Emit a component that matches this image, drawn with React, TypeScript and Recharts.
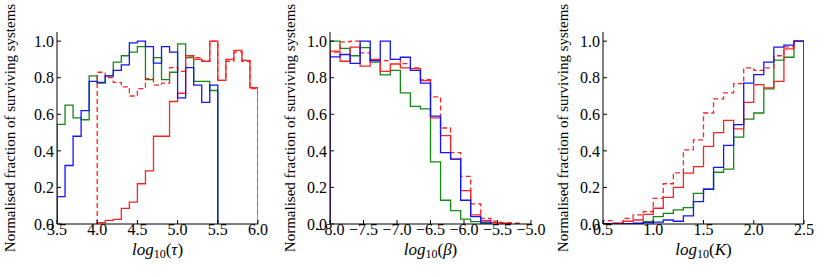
import { LineChart, Line, XAxis, YAxis } from "recharts";

// bins of 0.1 in log10(tau), starting at 3.5 (blue/green) and 4.0 (red)
const TAU_BLUE = [0.15, 0.32, 0.48, 0.62, 0.78, 0.775, 0.81, 0.84, 0.87, 0.99, 1.0, 0.97, 0.88, 0.97, 0.94, 0.69, 0.855, 0.76, 0.665, 0.76];
const TAU_GREEN = [0.545, 0.65, 0.58, 0.57, 0.81, 0.77, 0.81, 0.885, 0.92, 0.94, 0.97, 0.79, 0.91, 0.79, 0.83, 0.985, 0.91, 0.78, 0.78, 0.73];
const TAU_RED = [0.007, 0.02, 0.025, 0.085, 0.12, 0.22, 0.29, 0.48, 0.48, 0.67, 0.715, 0.92, 0.9, 0.89, 1.0, 0.785, 0.9, 0.95, 0.895, 0.745];
const TAU_RED_DASH = [0.83, 0.8, 0.775, 0.75, 0.7, 0.74, 0.795, 0.76, 0.77, 0.855, 0.835, 0.92, 0.91, 0.89, 1.0, 0.785, 0.89, 0.94, 0.89, 0.74];

// bins of 0.15 in log10(beta), starting at -8.0
const BETA_BLUE = [0.914, 0.927, 0.878, 1.0, 0.894, 1.0, 0.9, 0.912, 0.84, 0.77, 0.59, 0.39, 0.355, 0.13, 0.04, 0.01];
const BETA_GREEN = [1.0, 0.96, 0.92, 0.965, 0.885, 0.815, 0.84, 0.717, 0.643, 0.63, 0.34, 0.13, 0.073, 0.027, 0.013, 0.004];
const BETA_RED = [0.945, 0.89, 0.967, 0.863, 0.9, 0.835, 0.875, 0.854, 0.85, 0.784, 0.58, 0.483, 0.355, 0.183, 0.05, 0.018, 0.007, 0.004];
const BETA_RED_DASH = [0.94, 0.996, 1.0, 0.936, 0.894, 0.894, 0.9, 0.877, 0.853, 0.79, 0.695, 0.525, 0.39, 0.26, 0.11, 0.031, 0.016, 0.007, 0.004];

// bins of 0.1 in log10(K), starting at 0.5
const K_BLUE = [0, 0, 0.002, 0.004, 0.008, 0.01, 0.022, 0.015, 0.044, 0.122, 0.19, 0.31, 0.43, 0.543, 0.77, 0.817, 0.885, 0.967, 0.978, 1.0];
const K_GREEN = [0, 0, 0, 0.002, 0.013, 0.04, 0.058, 0.077, 0.09, 0.168, 0.19, 0.283, 0.3, 0.475, 0.574, 0.607, 0.739, 0.896, 0.912, 1.0];
const K_RED = [0.002, 0.004, 0.015, 0.022, 0.053, 0.086, 0.146, 0.2, 0.278, 0.314, 0.424, 0.5, 0.567, 0.52, 0.665, 0.762, 0.744, 0.78, 0.958, 1.0];
const K_RED_DASH = [0.018, 0.005, 0.031, 0.05, 0.068, 0.14, 0.22, 0.28, 0.405, 0.46, 0.607, 0.684, 0.717, 0.768, 0.854, 0.84, 0.854, 0.92, 0.969, 1.0];

const Y_TICKS = [0, 0.2, 0.4, 0.6, 0.8, 1.0];
const TAU_TICKS = [3.5, 4.0, 4.5, 5.0, 5.5, 6.0];
const BETA_TICKS = [-8.0, -7.5, -7.0, -6.5, -6.0, -5.5, -5.0];
const K_TICKS = [0.5, 1.0, 1.5, 2.0, 2.5];

const BLUE = "#1515ff";
const GREEN = "#138a13";
const RED = "#ff2222";
const FONT = "'Liberation Serif', 'DejaVu Serif', serif";

// outline of a step histogram, like matplotlib histtype="step"
function steps(start: number, width: number, values: number[]) {
  const pts = [{ x: start, y: 0 }];
  values.forEach((v, i) => pts.push({ x: +(start + i * width).toFixed(4), y: v }));
  const end = +(start + values.length * width).toFixed(4);
  pts.push({ x: end, y: values[values.length - 1] });
  pts.push({ x: end, y: 0 });
  return pts;
}

const fmt = (v: number) => (v < 0 ? "\u2212" + Math.abs(v).toFixed(1) : v.toFixed(1));

interface Series {
  data: { x: number; y: number }[];
  color: string;
  dashed?: boolean;
}

interface PanelProps {
  left: number;
  domain: [number, number];
  ticks: number[];
  series: Series[];
  labelLeft: number;
  symbol: string;
}

const PLOT_W = 201;
const CHART_W = 280;
const MARGIN_LEFT = 57;

function Panel({ left, domain, ticks, series, labelLeft, symbol }: PanelProps) {
  const tickStyle = { fontSize: 16, fontFamily: FONT, fill: "#000" };
  return (
    <>
      <div style={{ position: "absolute", left, top: 0 }}>
        <LineChart
          width={CHART_W}
          height={277}
          margin={{ top: 32, right: CHART_W - MARGIN_LEFT - PLOT_W, bottom: 33, left: MARGIN_LEFT - 30 }}
        >
          <XAxis
            dataKey="x"
            type="number"
            domain={domain}
            ticks={ticks}
            interval={0}
            allowDataOverflow
            tickFormatter={fmt}
            tick={tickStyle}
            tickSize={-4}
            tickMargin={4}
            height={20}
            stroke="#000"
          />
          <XAxis
            xAxisId="top"
            orientation="top"
            dataKey="x"
            type="number"
            domain={domain}
            ticks={ticks}
            interval={0}
            allowDataOverflow
            tickFormatter={() => ""}
            tickSize={-4}
            height={0}
            stroke="#000"
          />
          <YAxis
            type="number"
            domain={[0, 1.05]}
            ticks={Y_TICKS}
            interval={0}
            allowDataOverflow
            tickFormatter={fmt}
            tick={tickStyle}
            tickSize={-4}
            tickMargin={7}
            width={30}
            stroke="#000"
          />
          <YAxis
            yAxisId="right"
            orientation="right"
            type="number"
            domain={[0, 1.05]}
            ticks={Y_TICKS}
            interval={0}
            tickFormatter={() => ""}
            tickSize={-4}
            width={0}
            stroke="#000"
          />
          {series.map((s, i) => (
            <Line
              key={i}
              data={s.data}
              dataKey="y"
              type="stepAfter"
              stroke={s.color}
              strokeWidth={1.3}
              strokeDasharray={s.dashed ? "5 3" : undefined}
              dot={false}
              activeDot={false}
              isAnimationActive={false}
            />
          ))}
        </LineChart>
      </div>
      <div
        style={{
          position: "absolute",
          left: labelLeft - 130,
          top: 128 - 10,
          width: 260,
          height: 20,
          lineHeight: "20px",
          textAlign: "center",
          transform: "rotate(-90deg)",
          fontFamily: FONT,
          fontSize: 15,
          whiteSpace: "nowrap",
        }}
      >
        Normalised fraction of surviving systems
      </div>
      <div
        style={{
          position: "absolute",
          left: left + MARGIN_LEFT,
          top: 240,
          width: PLOT_W,
          height: 20,
          lineHeight: "20px",
          textAlign: "center",
          fontFamily: FONT,
          fontSize: 17,
          whiteSpace: "nowrap",
        }}
      >
        <i>log</i>
        <span style={{ fontSize: 12, verticalAlign: "-3px", lineHeight: 0 }}>10</span>(<i>{symbol}</i>)
      </div>
    </>
  );
}

export default function App() {
  return (
    <div style={{ position: "absolute", left: 0, top: 0, width: 830, height: 277, background: "#fff" }}>
      <Panel
        left={0}
        domain={[3.5, 6.0]}
        ticks={TAU_TICKS}
        labelLeft={10}
        symbol={"\u03c4"}
        series={[
          { data: steps(3.5, 0.1, TAU_GREEN), color: GREEN },
          { data: steps(4.0, 0.1, TAU_RED), color: RED },
          { data: steps(4.0, 0.1, TAU_RED_DASH), color: RED, dashed: true },
          { data: steps(3.5, 0.1, TAU_BLUE), color: BLUE },
        ]}
      />
      <Panel
        left={273}
        domain={[-8.0, -5.0]}
        ticks={BETA_TICKS}
        labelLeft={290}
        symbol={"\u03b2"}
        series={[
          { data: steps(-8.0, 0.15, BETA_GREEN), color: GREEN },
          { data: steps(-8.0, 0.15, BETA_RED), color: RED },
          { data: steps(-8.0, 0.15, BETA_RED_DASH), color: RED, dashed: true },
          { data: steps(-8.0, 0.15, BETA_BLUE), color: BLUE },
        ]}
      />
      <Panel
        left={546}
        domain={[0.5, 2.5]}
        ticks={K_TICKS}
        labelLeft={563}
        symbol="K"
        series={[
          { data: steps(0.5, 0.1, K_GREEN), color: GREEN },
          { data: steps(0.5, 0.1, K_RED), color: RED },
          { data: steps(0.5, 0.1, K_RED_DASH), color: RED, dashed: true },
          { data: steps(0.5, 0.1, K_BLUE), color: BLUE },
        ]}
      />
    </div>
  );
}
